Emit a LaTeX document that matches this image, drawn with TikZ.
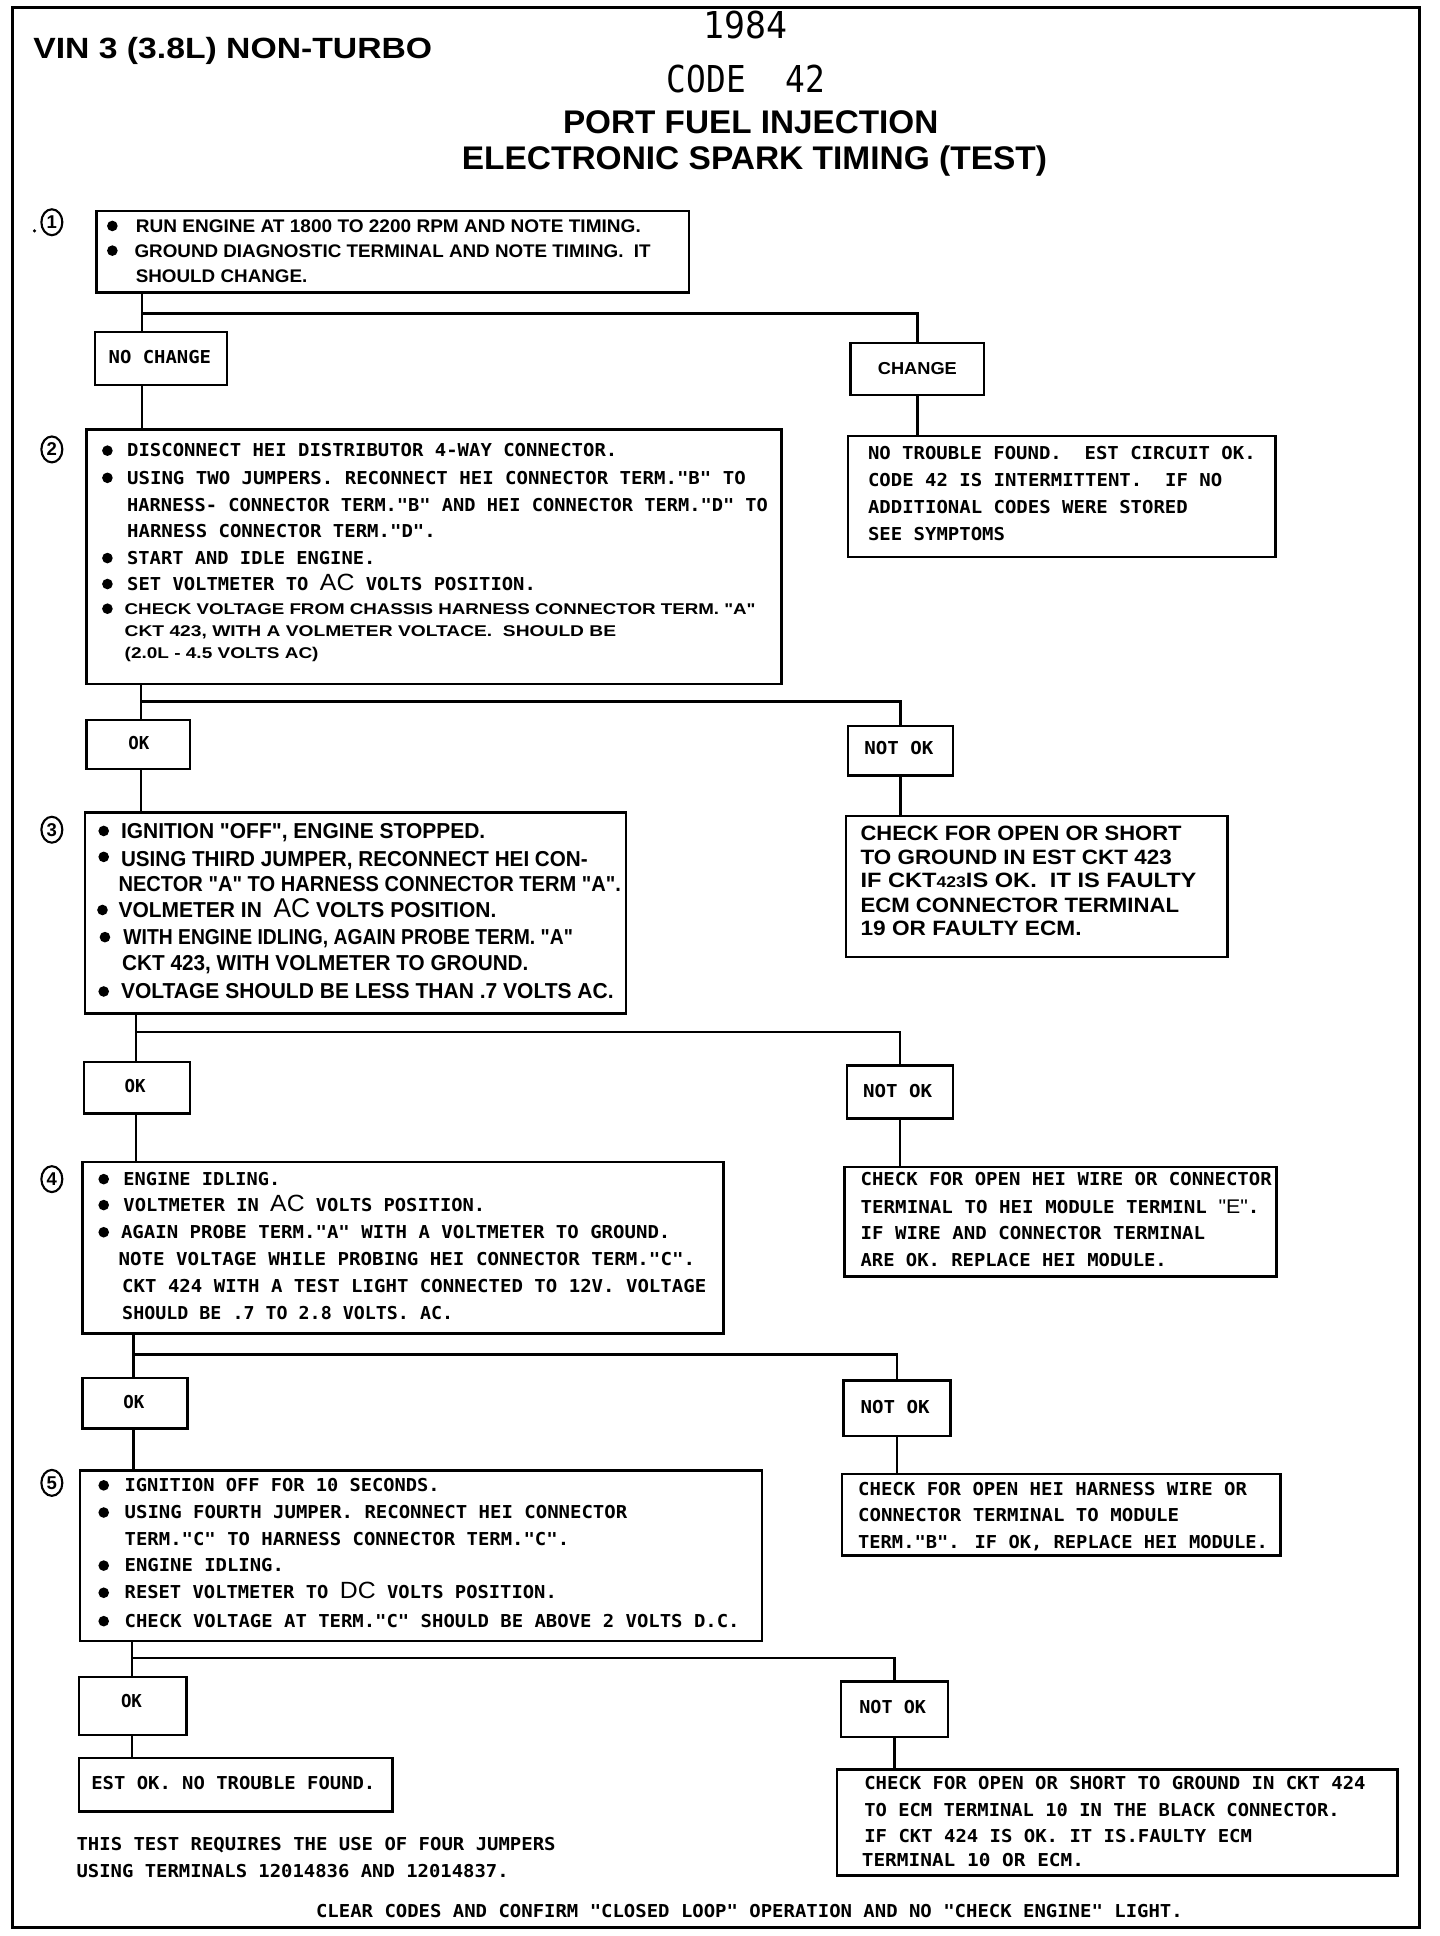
\documentclass[tikz,border=0pt]{standalone}
\usepackage{fontspec}
\usepackage{graphicx}
\usetikzlibrary{shapes.geometric}
\setmainfont{Liberation Sans}
\newfontfamily\hvf{Liberation Sans}
\newfontfamily\dmf{DejaVu Sans Mono}
\newcommand\TXL[6][dm=14.4]{\node[tl,#1] (#2) at (#3,#4) {\resizebox{#5pt}{\height}{#6}};}
\newcommand\bigac[2][19]{{\hvf\mdseries\fontsize{#1}{#1}\selectfont #2}}
\newcommand\bulp[2]{\fill (#1,#2) circle (4.3);}
\tikzset{
  tl/.style={anchor=base west, inner sep=0pt, outer sep=0pt},
  hv/.style={font=\hvf\bfseries\fontsize{#1}{#1}\selectfont},
  dm/.style={font=\dmf\bfseries\fontsize{#1}{#1}\selectfont},
  thin/.style={font=\dmf\fontsize{#1}{#1}\selectfont},
  box/.style={draw, line width=2pt, inner sep=0pt, anchor=north west},
  conn/.style={line width=2pt},
  num/.style={draw, ellipse, line width=1.7pt, minimum width=17pt, minimum height=21pt, inner sep=0pt, font=\hvf\bfseries\fontsize{15}{15}\selectfont}
}
\begin{document}
\begin{tikzpicture}[x=1pt,y=-1pt]
\useasboundingbox (0,0) rectangle (1166,1568);
% frame
\draw[line width=2.4pt] (10,6) rectangle (1150,1561);
% titles
\TXL[hv=23.7]{t1}{27}{47}{323}{VIN 3 (3.8L) NON-TURBO}
\TXL[thin=30]{t2}{570}{31}{68}{1984}
\TXL[thin=30]{t3}{540}{75}{128}{CODE\ \ 42}
\TXL[hv=26.5]{t4}{456}{108}{304}{PORT FUEL INJECTION}
\TXL[hv=26.5]{t5}{374}{137}{474}{ELECTRONIC SPARK TIMING (TEST)}
% step numbers
\fill (28,187) circle (1.4);
\node[num] (n1) at (42,180) {1};
\node[num] (n2) at (42,364) {2};
\node[num] (n3) at (42,672) {3};
\node[num] (n4) at (42,955) {4};
\node[num] (n5) at (42,1201) {5};
% ---------- step 1
\node[box, minimum width=480pt, minimum height=66pt] (b1) at (77,170) {};
\bulp{91}{183}\bulp{91}{203}
\TXL[hv=14.8]{b1a}{110}{188.5}{409}{RUN ENGINE AT 1800 TO 2200 RPM AND NOTE TIMING.}
\TXL[hv=14.8]{b1b}{109}{208.5}{418}{GROUND DIAGNOSTIC TERMINAL AND NOTE TIMING.\ \ IT}
\TXL[hv=14.8]{b1c}{110}{228.5}{139}{SHOULD CHANGE.}
\node[box, minimum width=107pt, minimum height=43pt] (nc1) at (76,268) {};
\TXL{nc1t}{88}{294}{83}{NO CHANGE}
\node[box, minimum width=108pt, minimum height=42pt] (ch1) at (688,277) {};
\TXL[hv=14]{ch1t}{711}{303}{64}{CHANGE}
\node[box, minimum width=346pt, minimum height=98pt] (ntf) at (686,352) {};
\TXL{ntfa}{703}{372}{314}{NO TROUBLE FOUND.\ \ EST CIRCUIT OK.}
\TXL{ntfb}{703}{394}{287}{CODE 42 IS INTERMITTENT.\ \ IF NO}
\TXL{ntfc}{703}{416}{259}{ADDITIONAL CODES WERE STORED}
\TXL{ntfd}{703}{438}{111}{SEE SYMPTOMS}
\coordinate (j1) at (115,254);
\draw[conn] (b1.south -| j1) -- (nc1.north -| j1);
\draw[conn] (j1) -| (ch1.north);
\draw[conn] (nc1.south -| j1) -- (115,347);
\draw[conn] (ch1.south) -- (ntf.north -| ch1.south);
% ---------- step 2
\node[box, minimum width=563pt, minimum height=206pt] (b2) at (69,347) {};
\bulp{87}{365}\bulp{87}{387}\bulp{87}{452}\bulp{87}{473}\bulp{87}{493}
\TXL{b2a}{103}{370}{397}{DISCONNECT HEI DISTRIBUTOR 4-WAY CONNECTOR.}
\TXL{b2b}{103}{392}{501}{USING TWO JUMPERS. RECONNECT HEI CONNECTOR TERM."B" TO}
\TXL{b2c}{103}{414}{519}{HARNESS- CONNECTOR TERM."B" AND HEI CONNECTOR TERM."D" TO}
\TXL{b2d}{103}{435}{250}{HARNESS CONNECTOR TERM."D".}
\TXL{b2e}{103}{457}{201}{START AND IDLE ENGINE.}
\TXL{b2f}{103}{478}{331}{SET VOLTMETER TO \bigac{AC} VOLTS POSITION.}
\TXL[hv=12.6]{b2g}{101}{497.5}{511}{CHECK VOLTAGE FROM CHASSIS HARNESS CONNECTOR TERM. "A"}
\TXL[hv=12.6]{b2h}{101}{515.5}{398}{CKT 423, WITH A VOLMETER VOLTACE.\ \ SHOULD BE}
\TXL[hv=12.6]{b2i}{101}{533.5}{157}{(2.0L - 4.5 VOLTS AC)}
\node[box, minimum width=84pt, minimum height=40pt] (ok2) at (69,582) {};
\TXL{ok2t}{104}{607}{17}{OK}
\node[box, minimum width=85pt, minimum height=40pt] (nok2) at (686,587) {};
\TXL{nok2t}{700}{611}{56}{NOT OK}
\node[box, minimum width=309pt, minimum height=114pt] (r2) at (684,660) {};
\TXL[hv=16.8]{r2a}{697}{681}{260}{CHECK FOR OPEN OR SHORT}
\TXL[hv=16.8]{r2b}{697}{700}{252}{TO GROUND IN EST CKT 423}
\TXL[hv=16.8]{r2c}{697}{719}{272}{IF CKT{\fontsize{12.5}{12.5}\selectfont 423}IS OK.\ \ IT IS FAULTY}
\TXL[hv=16.8]{r2d}{697}{739}{258}{ECM CONNECTOR TERMINAL}
\TXL[hv=16.8]{r2e}{697}{758}{179}{19 OR FAULTY ECM.}
\coordinate (j2) at (114,568);
\draw[conn] (b2.south -| j2) -- (ok2.north -| j2);
\draw[conn] (j2) -| (nok2.north);
\draw[conn] (ok2.south -| j2) -- (114,657);
\draw[conn] (nok2.south) -- (r2.north -| nok2.south);
% ---------- step 3
\node[box, minimum width=438pt, minimum height=163pt] (b3) at (68,657) {};
\bulp{84}{673}\bulp{84}{694}\bulp{83}{737}\bulp{85}{759}\bulp{84}{803}
\TXL[hv=17.5]{b3a}{98}{679}{295}{IGNITION "OFF", ENGINE STOPPED.}
\TXL[hv=17.5]{b3b}{98}{702}{378}{USING THIRD JUMPER, RECONNECT HEI CON-}
\TXL[hv=17.5]{b3c}{96}{722}{407}{NECTOR "A" TO HARNESS CONNECTOR TERM "A".}
\TXL[hv=17.5]{b3d}{96}{743}{306}{VOLMETER IN \ \bigac[22]{AC} VOLTS POSITION.}
\TXL[hv=17.5]{b3e}{100}{765}{364}{WITH ENGINE IDLING, AGAIN PROBE TERM. "A"}
\TXL[hv=17.5]{b3f}{99}{786}{329}{CKT 423, WITH VOLMETER TO GROUND.}
\TXL[hv=17.5]{b3g}{98}{809}{399}{VOLTAGE SHOULD BE LESS THAN .7 VOLTS AC.}
\node[box, minimum width=86pt, minimum height=42pt] (ok3) at (67,859) {};
\TXL{ok3t}{101}{885}{17}{OK}
\node[box, minimum width=86pt, minimum height=43pt] (nok3) at (685,862) {};
\TXL{nok3t}{699}{889}{56}{NOT OK}
\node[box, minimum width=350pt, minimum height=89pt] (r3) at (683,944) {};
\TXL{r3a}{697}{960}{333}{CHECK FOR OPEN HEI WIRE OR CONNECTOR}
\TXL{r3b}{697}{983}{323}{TERMINAL TO HEI MODULE TERMINL {\hvf\mdseries\fontsize{16}{16}\selectfont "E"}.}
\TXL{r3c}{697}{1004}{279}{IF WIRE AND CONNECTOR TERMINAL}
\TXL{r3d}{697}{1026}{248}{ARE OK. REPLACE HEI MODULE.}
\coordinate (j3) at (110,836);
\draw[conn] (b3.south -| j3) -- (ok3.north -| j3);
\draw[conn] (j3) -| (nok3.north);
\draw[conn] (ok3.south -| j3) -- (110,940);
\draw[conn] (nok3.south) -- (r3.north -| nok3.south);
% ---------- step 4
\node[box, minimum width=519pt, minimum height=139pt] (b4) at (66,940) {};
\bulp{84}{955}\bulp{84}{976}\bulp{84}{998}
\TXL{b4a}{100}{960}{127}{ENGINE IDLING.}
\TXL{b4b}{100}{981}{293}{VOLTMETER IN \bigac{AC} VOLTS POSITION.}
\TXL{b4c}{98}{1003}{445}{AGAIN PROBE TERM."A" WITH A VOLTMETER TO GROUND.}
\TXL{b4d}{96}{1025}{467}{NOTE VOLTAGE WHILE PROBING HEI CONNECTOR TERM."C".}
\TXL{b4e}{99}{1047}{473}{CKT 424 WITH A TEST LIGHT CONNECTED TO 12V. VOLTAGE}
\TXL{b4f}{99}{1069}{268}{SHOULD BE .7 TO 2.8 VOLTS. AC.}
\node[box, minimum width=85pt, minimum height=41pt] (ok4) at (66,1115) {};
\TXL{ok4t}{100}{1141}{17}{OK}
\node[box, minimum width=87pt, minimum height=45pt] (nok4) at (682,1117) {};
\TXL{nok4t}{697}{1145}{56}{NOT OK}
\node[box, minimum width=355pt, minimum height=66pt] (r4) at (681,1193) {};
\TXL{r4a}{695}{1211}{315}{CHECK FOR OPEN HEI HARNESS WIRE OR}
\TXL{r4b}{695}{1232}{260}{CONNECTOR TERMINAL TO MODULE}
\TXL{r4c}{695}{1254}{332}{TERM."B". IF OK, REPLACE HEI MODULE.}
\coordinate (j4) at (108,1097);
\draw[conn] (b4.south -| j4) -- (ok4.north -| j4);
\draw[conn] (j4) -| (nok4.north);
\draw[conn] (ok4.south -| j4) -- (108,1190);
\draw[conn] (nok4.south) -- (r4.north -| nok4.south);
% ---------- step 5
\node[box, minimum width=552pt, minimum height=138pt] (b5) at (64,1190) {};
\bulp{84}{1203}\bulp{84}{1225}\bulp{84}{1268}\bulp{84}{1290}\bulp{84}{1313}
\TXL{b5a}{101}{1208}{255}{IGNITION OFF FOR 10 SECONDS.}
\TXL{b5b}{101}{1230}{407}{USING FOURTH JUMPER. RECONNECT HEI CONNECTOR}
\TXL{b5c}{101}{1252}{360}{TERM."C" TO HARNESS CONNECTOR TERM."C".}
\TXL{b5d}{101}{1273}{129}{ENGINE IDLING.}
\TXL{b5e}{101}{1295}{350}{RESET VOLTMETER TO \bigac{DC} VOLTS POSITION.}
\TXL{b5f}{101}{1318}{498}{CHECK VOLTAGE AT TERM."C" SHOULD BE ABOVE 2 VOLTS D.C.}
\node[box, minimum width=87pt, minimum height=47pt] (ok5) at (63,1357) {};
\TXL{ok5t}{98}{1383}{17}{OK}
\node[box, minimum width=87pt, minimum height=45pt] (nok5) at (680,1361) {};
\TXL{nok5t}{696}{1388}{54}{NOT OK}
\node[box, minimum width=254pt, minimum height=43pt] (est) at (63,1423) {};
\TXL{estt}{74}{1449}{230}{EST OK. NO TROUBLE FOUND.}
\node[box, minimum width=454pt, minimum height=86pt] (r5) at (677,1432) {};
\TXL{r5a}{700}{1449}{406}{CHECK FOR OPEN OR SHORT TO GROUND IN CKT 424}
\TXL{r5b}{700}{1471}{385}{TO ECM TERMINAL 10 IN THE BLACK CONNECTOR.}
\TXL{r5c}{700}{1492}{314}{IF CKT 424 IS OK. IT IS.FAULTY ECM}
\TXL{r5d}{698}{1512}{180}{TERMINAL 10 OR ECM.}
\coordinate (j5) at (107,1343);
\draw[conn] (b5.south -| j5) -- (ok5.north -| j5);
\draw[conn] (j5) -| (nok5.north);
\draw[conn] (ok5.south -| j5) -- (est.north -| j5);
\draw[conn] (nok5.south) -- (r5.north -| nok5.south);
% ---------- footer
\TXL{f1}{62}{1499}{388}{THIS TEST REQUIRES THE USE OF FOUR JUMPERS}
\TXL{f2}{62}{1521}{350}{USING TERMINALS 12014836 AND 12014837.}
\TXL{f3}{256}{1553}{702}{CLEAR CODES AND CONFIRM "CLOSED LOOP" OPERATION AND NO "CHECK ENGINE" LIGHT.}
\end{tikzpicture}
\end{document}
